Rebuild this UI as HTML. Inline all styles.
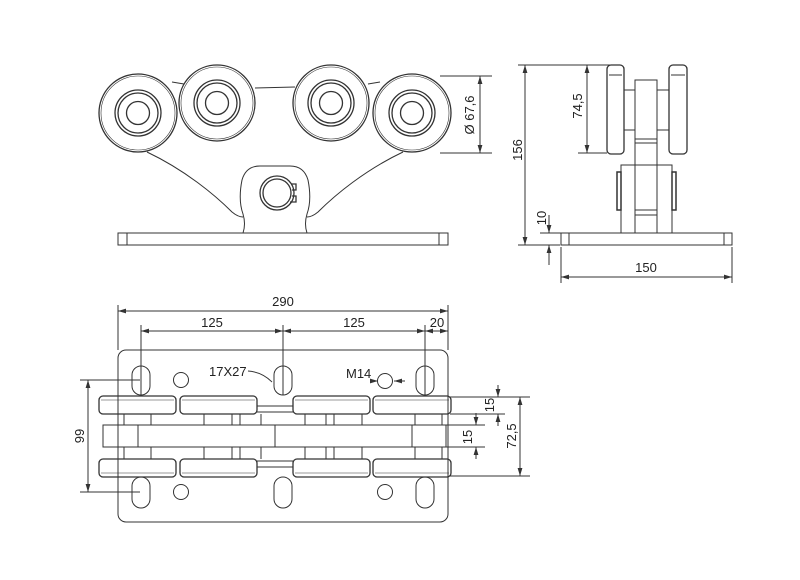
<!DOCTYPE html>
<html><head><meta charset="utf-8"><style>body{margin:0;background:#fff}svg{display:block}text{font-family:"Liberation Sans",sans-serif;font-size:13px;fill:#222}</style></head><body>
<svg width="800" height="580" viewBox="0 0 800 580" xmlns="http://www.w3.org/2000/svg">
<defs><marker id="a" viewBox="0 0 10 6" refX="10" refY="3" markerWidth="8" markerHeight="5" orient="auto-start-reverse"><path d="M0,0L10,3L0,6z" fill="#333"/></marker></defs>
<g fill="none" stroke="#333" stroke-width="1">
<!-- TOP VIEW -->
<path d="M172,82 L184,84 M255,88 L295,87 M368,84 L380,82"/>
<path d="M147,152 C185,170 215,195 232,212 Q238,217 243,217"/>
<path d="M403,152 C365,170 335,195 318,212 Q312,217 307,217"/>
<path d="M243,233 Q246,224 243,214 Q238,200 242,180 Q246,166 260,166 L290,166 Q304,166 308,180 Q312,200 307,214 Q304,224 307,233"/>
<rect x="118" y="233" width="330" height="12"/>
<path d="M127,233V245M439,233V245"/>
<g stroke-width="1.3">
<circle cx="138" cy="113" r="39"/><circle cx="138" cy="113" r="37" stroke-width=".6"/><circle cx="138" cy="113" r="23"/><circle cx="138" cy="113" r="20"/><circle cx="138" cy="113" r="11.5"/>
<circle cx="217" cy="103" r="38"/><circle cx="217" cy="103" r="36" stroke-width=".6"/><circle cx="217" cy="103" r="23"/><circle cx="217" cy="103" r="20"/><circle cx="217" cy="103" r="11.5"/>
<circle cx="331" cy="103" r="38"/><circle cx="331" cy="103" r="36" stroke-width=".6"/><circle cx="331" cy="103" r="23"/><circle cx="331" cy="103" r="20"/><circle cx="331" cy="103" r="11.5"/>
<circle cx="412" cy="113" r="39"/><circle cx="412" cy="113" r="37" stroke-width=".6"/><circle cx="412" cy="113" r="23"/><circle cx="412" cy="113" r="20"/><circle cx="412" cy="113" r="11.5"/>
<circle cx="277" cy="193" r="17"/><circle cx="277" cy="193" r="14"/>
<path d="M291,184 L296,184 L296,190 L292,190 M292,196 L296,196 L296,202 L290,202"/>
</g>
<path d="M440,76H492M440,153H492"/>
<path d="M480,76V153" marker-start="url(#a)" marker-end="url(#a)"/>
<!-- SIDE VIEW -->
<rect x="561" y="233" width="171" height="12"/>
<path d="M569,233V245M724,233V245"/>
<rect x="607" y="65" width="17" height="89" rx="4" stroke-width="1.3"/>
<rect x="669" y="65" width="18" height="89" rx="4" stroke-width="1.3"/>
<path d="M609,75H622M671,75H685"/>
<rect x="635" y="80" width="22" height="153"/>
<path d="M624,90H635M624,130H635M657,90H669M657,130H669M635,139H657M635,143H657M635,210H657M635,215H657"/>
<path d="M624,90V130M669,90V130"/>
<rect x="621" y="165" width="51" height="68"/>
<path d="M635,165V233M657,165V233"/>
<rect x="617" y="172" width="4" height="38" stroke-width="1.5"/>
<rect x="672" y="172" width="4" height="38" stroke-width="1.5"/>
<path d="M518,65H612M518,245H560M578,153H607M540,233H561M561,247V283M732,247V283"/>
<path d="M525,65V245" marker-start="url(#a)" marker-end="url(#a)"/>
<path d="M587,65V153" marker-start="url(#a)" marker-end="url(#a)"/>
<path d="M549,215V233" marker-end="url(#a)"/><path d="M549,265V245" marker-end="url(#a)"/>
<path d="M561,277H732" marker-start="url(#a)" marker-end="url(#a)"/>
<!-- BOTTOM VIEW -->
<rect x="118" y="350" width="330" height="172" rx="8"/>
<rect x="132" y="366" width="18" height="29" rx="9"/>
<rect x="274" y="366" width="18" height="29" rx="9"/>
<rect x="416" y="366" width="18" height="29" rx="9"/>
<rect x="132" y="477" width="18" height="31" rx="9"/>
<rect x="274" y="477" width="18" height="31" rx="9"/>
<rect x="416" y="477" width="18" height="31" rx="9"/>
<circle cx="181" cy="380" r="7.5"/><circle cx="181" cy="492" r="7.5"/><circle cx="385" cy="492" r="7.5"/><circle cx="385" cy="381" r="7.5"/>
<g stroke-width="1.3">
<rect x="99" y="396" width="77" height="18" rx="4"/><rect x="180" y="396" width="77" height="18" rx="4"/><rect x="293" y="396" width="77" height="18" rx="4"/><rect x="373" y="396" width="78" height="18" rx="4"/>
<rect x="99" y="459" width="77" height="18" rx="4"/><rect x="180" y="459" width="77" height="18" rx="4"/><rect x="293" y="459" width="77" height="18" rx="4"/><rect x="373" y="459" width="78" height="18" rx="4"/>
</g>
<path d="M101,400H174M182,400H255M295,400H368M375,400H449M101,473H174M182,473H255M295,473H368M375,473H449" stroke-width=".5"/>
<path d="M257,406H293M257,412H293M257,461H293M257,467H293"/>
<rect x="103" y="425" width="343" height="22"/>
<path d="M138,425V447M275,425V447M412,425V447"/>
<path d="M118,414V425M124,414V425M151,414V425M204,414V425M232,414V425M240,414V425M261,414V425M305,414V425M326,414V425M334,414V425M362,414V425M415,414V425M442,414V425M448,414V425"/>
<path d="M118,447V459M124,447V459M151,447V459M204,447V459M232,447V459M240,447V459M261,447V459M305,447V459M326,447V459M334,447V459M362,447V459M415,447V459M442,447V459M448,447V459"/>
<path d="M118,305V350M448,305V350M141,325V395M283,325V395M425,325V395"/>
<path d="M118,311H448" marker-start="url(#a)" marker-end="url(#a)"/>
<path d="M141,331H283" marker-start="url(#a)" marker-end="url(#a)"/>
<path d="M283,331H425" marker-start="url(#a)" marker-end="url(#a)"/>
<path d="M425,331H448" marker-start="url(#a)" marker-end="url(#a)"/>
<path d="M80,380H140M80,492H140"/>
<path d="M88,380V492" marker-start="url(#a)" marker-end="url(#a)"/>
<path d="M450,397H530M450,414H505M446,425H485M446,447H485M450,476H530"/>
<path d="M498,385V397" marker-end="url(#a)"/><path d="M498,426V414" marker-end="url(#a)"/>
<path d="M476,413V425" marker-end="url(#a)"/><path d="M476,459V447" marker-end="url(#a)"/>
<path d="M520,397V476" marker-start="url(#a)" marker-end="url(#a)"/>
<path d="M248,371 Q262,372 272,382"/>
<path d="M370,381H378" marker-end="url(#a)"/><path d="M405,381H394" marker-end="url(#a)"/>
</g>
<text x="0" y="0" transform="translate(474,115) rotate(-90)" text-anchor="middle">Ø 67,6</text>
<text x="0" y="0" transform="translate(522,150) rotate(-90)" text-anchor="middle" font-size="14">156</text>
<text x="0" y="0" transform="translate(582,106) rotate(-90)" text-anchor="middle" font-size="14">74,5</text>
<text x="0" y="0" transform="translate(546,218) rotate(-90)" text-anchor="middle">10</text>
<text x="646" y="272" text-anchor="middle" font-size="14">150</text>
<text x="283" y="306" text-anchor="middle">290</text>
<text x="212" y="327" text-anchor="middle">125</text>
<text x="354" y="327" text-anchor="middle">125</text>
<text x="437" y="327" text-anchor="middle">20</text>
<text x="209" y="376">17X27</text>
<text x="346" y="378">M14</text>
<text x="0" y="0" transform="translate(84,436) rotate(-90)" text-anchor="middle">99</text>
<text x="0" y="0" transform="translate(494,405) rotate(-90)" text-anchor="middle">15</text>
<text x="0" y="0" transform="translate(472,437) rotate(-90)" text-anchor="middle">15</text>
<text x="0" y="0" transform="translate(516,436) rotate(-90)" text-anchor="middle">72,5</text>
</svg>
</body></html>
